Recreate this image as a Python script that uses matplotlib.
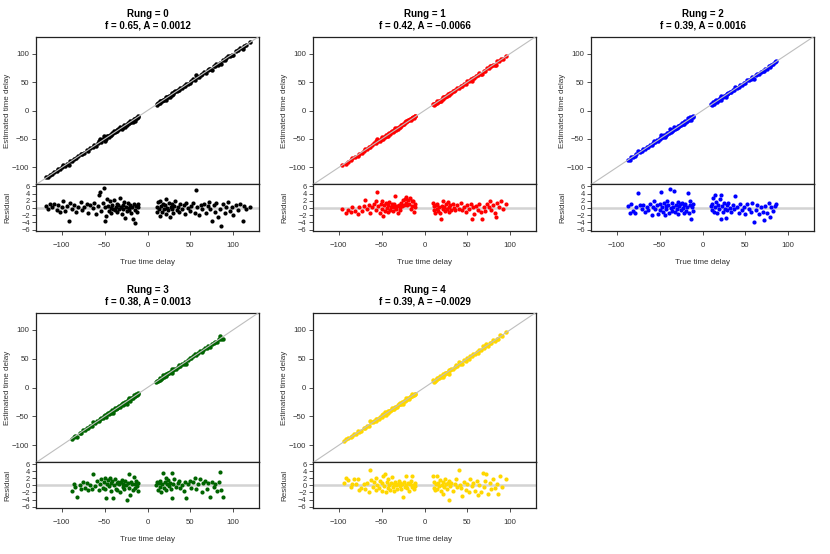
import numpy as np
import matplotlib.pyplot as plt

# 1) Values: (true time delay, residual) pairs per rung
rung0 = [(-118, 0.6), (-116, -0.4), (-114, 1.0), (-111, 0.3), (-109, 1.2), (-106, -0.5), (-104, 0.8),
         (-102, -1.2), (-100, 0.2), (-98, 1.9), (-96, -0.8), (-94, 0.5), (-92, -3.5), (-90, 1.3),
         (-88, -0.3), (-86, 0.9), (-83, -1.0), (-81, 0.4), (-78, 1.6), (-76, -0.6), (-74, 0.2),
         (-71, 1.1), (-69, -1.4), (-67, 0.7), (-64, 0.0), (-62, 1.4), (-60, -1.8), (-58, 0.6),
         (-57, 3.6), (-55, 4.4), (-54, -0.9), (-52, 1.5), (-51, 5.6), (-50, -3.5), (-49, 0.3),
         (-48, -2.3), (-47, 2.6), (-46, 0.5), (-45, -0.8), (-44, 1.8), (-43, 0.1), (-42, -1.5),
         (-41, 0.9), (-40, -0.2), (-39, 2.2), (-38, -0.6), (-37, 0.4), (-36, 1.2), (-35, -1.1),
         (-34, 0.7), (-33, -0.3), (-32, 2.9), (-31, 0.2), (-30, -1.7), (-29, 0.8), (-28, -0.4),
         (-27, 1.6), (-26, -2.8), (-25, 0.3), (-24, -0.9), (-23, 1.3), (-22, 0.0), (-21, -0.5),
         (-20, 0.9), (-19, -1.3), (-18, 0.4), (-17, -3.2), (-16, 1.1), (-15, -0.7), (-14, -4.2),
         (-13, 0.5), (-12, -1.0), (-11, 0.2), (-10.5, 1.0),
         (10.5, 0.3), (11, -1.2), (12, 1.6), (13, -0.4), (14, 2.0), (15, -2.3), (16, 0.6),
         (17, -1.0), (18, 1.1), (19, -0.2), (20, 0.8), (21, -1.8), (22, 2.4), (23, 0.1),
         (24, -0.7), (25, 1.3), (26, -2.5), (27, 0.4), (28, -0.3), (29, 1.0), (30, -1.4),
         (31, 0.6), (32, 1.8), (34, -0.5), (35, 0.2), (37, -1.1), (38, 1.2), (40, -0.2),
         (42, 0.7), (44, -1.6), (45, 1.4), (47, 0.0), (49, -0.9), (51, 0.5), (53, 1.5),
         (55, -1.3), (57, 5.0), (58, 0.3), (60, -2.0), (62, 0.8), (64, -0.4), (66, 1.1),
         (68, -1.5), (70, 0.6), (72, 1.7), (73, -0.3), (75, -3.7), (77, 0.9), (79, -1.0),
         (80, 1.3), (82, -2.6), (84, -0.2), (86, -5.1), (88, 1.0), (90, -1.4), (92, 0.4),
         (94, 1.6), (96, -0.8), (98, 0.2), (100, -1.9), (103, 0.7), (106, -0.6), (108, 1.2),
         (111, -3.5), (113, 0.5), (115, -0.3), (119, 0.4)]

rung1 = [(-96, -0.4), (-92, -1.5), (-89, -0.6), (-86, -1.2), (-84, 0.4), (-81, -0.8), (-78, -1.6),
         (-76, 0.3), (-73, -0.9), (-71, 0.6), (-69, 2.1), (-67, -0.3), (-65, 0.9), (-63, -1.3),
         (-61, 0.2), (-59, 1.1), (-57, -0.7), (-56, 1.8), (-55, 4.3), (-54, 0.5), (-52, -1.4),
         (-51, 1.0), (-50, -0.2), (-49, 1.9), (-48, -2.3), (-47, 0.7), (-46, -0.9), (-45, 1.5),
         (-44, 0.1), (-43, -1.2), (-42, 0.9), (-41, 1.6), (-40, -0.5), (-39, 0.4), (-38, 1.2),
         (-37, -0.8), (-36, 0.3), (-35, 1.0), (-34, 3.2), (-33, -0.4), (-32, 0.6), (-31, -1.5),
         (-30, 0.8), (-29, 0.2), (-28, -0.6), (-27, 1.4), (-26, 0.5), (-25, 2.1), (-24, 0.9),
         (-23, 2.6), (-22, 1.5), (-21, 3.0), (-20, 0.7), (-19, 2.3), (-18, 1.2), (-17, 2.8),
         (-16, -0.3), (-15, 1.8), (-14, 0.6), (-13, 2.0), (-12, -1.0), (-11, 1.1), (-10.5, 0.3),
         (10, 1.4), (10.5, -0.6), (11, 0.5), (12, -1.3), (13, 0.9), (14, -0.2), (15, 1.1),
         (16, -0.9), (17, 0.3), (18, -1.5), (19, -3.0), (20, 0.6), (21, -0.4), (22, 1.8),
         (23, 0.2), (24, -0.8), (25, 1.0), (26, -0.3), (27, 1.7), (28, 0.4), (29, -1.1),
         (30, 0.7), (31, -0.5), (33, 1.2), (34, 0.0), (36, -0.7), (38, 0.8), (40, -0.2),
         (42, 1.3), (44, -0.6), (46, 0.3), (48, -1.0), (50, 0.9), (52, -0.4), (54, 1.0),
         (55, -3.2), (57, 0.2), (58, -1.7), (60, 0.6), (62, -0.5), (64, 1.1), (66, -1.2),
         (67, -3.0), (69, 0.4), (71, -0.8), (73, 1.0), (75, 0.2), (76, 2.0), (78, -0.6),
         (80, 0.7), (82, -1.5), (83, -2.6), (85, 1.3), (87, 0.3), (89, 1.9), (91, -0.4),
         (95, 1.2)]

rung2 = [(-87, 0.5), (-85, -1.4), (-83, 1.0), (-81, -0.8), (-79, -1.5), (-77, 0.2), (-75, 4.1),
         (-73, 0.8), (-71, -0.4), (-69, 0.9), (-67, -1.2), (-65, 0.3), (-63, -0.7), (-61, 1.2),
         (-59, -1.9), (-58, 0.4), (-56, 1.8), (-55, -0.3), (-53, 0.7), (-52, -1.6), (-50, 1.0),
         (-49, -0.5), (-48, 4.4), (-47, 0.2), (-46, -1.0), (-45, 1.4), (-44, -2.0), (-43, 0.6),
         (-42, -0.3), (-41, 2.0), (-40, 0.8), (-39, -1.3), (-38, 5.3), (-37, 0.1), (-36, -0.8),
         (-35, 1.5), (-34, 0.4), (-33, 4.7), (-32, -1.1), (-31, 0.9), (-30, -0.4), (-29, 1.7),
         (-28, -1.7), (-27, 0.5), (-26, 1.0), (-25, -0.6), (-24, 1.3), (-23, 0.0), (-22, -1.4),
         (-21, 0.7), (-20, 1.1), (-19, -0.9), (-18, 0.3), (-17, 4.2), (-16, -1.5), (-15, 0.8),
         (-14, 2.0), (-13, -3.0), (-12, 0.2), (-11, -0.8), (-10.5, 1.2),
         (10, 0.6), (10.5, -0.5), (11, 1.2), (12, 2.8), (13, -1.0), (14, 3.5), (15, 0.2),
         (16, 1.6), (17, -1.4), (18, 0.8), (19, -0.3), (20, 2.4), (21, -3.2), (22, 3.7),
         (23, 0.5), (24, -1.1), (25, 1.3), (26, -0.2), (27, -2.7), (28, 0.9), (29, -0.6),
         (30, 1.5), (32, 0.1), (33, -1.2), (35, 0.7), (37, -0.4), (38, 3.3), (40, 0.3),
         (42, -1.5), (44, 1.0), (46, -0.7), (48, 0.4), (50, -1.8), (52, 1.2), (54, -0.2),
         (56, -1.1), (58, 1.3), (60, -4.0), (62, -0.5), (64, 0.8), (66, -1.6), (68, 0.2),
         (70, -1.0), (72, -3.3), (73, 0.6), (75, -1.3), (77, 1.3), (79, -2.5), (80, 0.4),
         (82, -0.9), (84, 0.6), (86, 1.0)]

rung3 = [(-88, -1.6), (-86, 0.3), (-84, -0.5), (-82, -3.2), (-79, 0.1), (-77, -1.0), (-75, 1.0),
         (-73, -0.6), (-71, 0.6), (-69, -1.2), (-67, 0.2), (-65, -0.9), (-63, 3.2), (-61, -0.3),
         (-59, 1.3), (-57, -1.4), (-55, 0.5), (-54, 1.8), (-52, -0.7), (-51, 0.9), (-50, 2.0),
         (-49, -1.1), (-48, -3.7), (-47, 0.4), (-46, 1.5), (-45, -0.2), (-44, 2.1), (-43, 0.8),
         (-42, -1.6), (-41, 1.2), (-40, -3.5), (-39, 0.1), (-38, 1.7), (-37, -0.9), (-36, 0.6),
         (-35, -1.3), (-34, 1.0), (-33, 0.3), (-32, -2.0), (-31, 0.9), (-30, 1.6), (-29, -0.5),
         (-28, 0.4), (-27, -1.1), (-26, 1.4), (-25, 0.0), (-24, -4.1), (-23, 0.8), (-22, 3.2),
         (-21, -0.6), (-20, -2.7), (-19, 1.1), (-18, 0.3), (-17, -1.2), (-16, 2.4), (-15, 0.5),
         (-14, -0.8), (-13, 1.3), (-12, -0.3), (-11, 0.7), (-10.5, -1.5),
         (10, 0.2), (11, 1.0), (12, -1.2), (13, 0.6), (14, -0.4), (15, 1.4), (16, -1.8),
         (17, 0.3), (18, 3.4), (19, -0.7), (20, 0.9), (21, 2.2), (22, -1.3), (23, 0.4),
         (24, 1.6), (25, -0.2), (26, 0.8), (27, -1.0), (28, 3.4), (29, -3.7), (30, 0.5),
         (31, 1.8), (33, -0.5), (35, 0.7), (37, 1.2), (38, -0.8), (40, 0.2), (42, -1.6),
         (44, 1.0), (45, -3.5), (47, 0.3), (49, 1.4), (51, -0.6), (53, 0.9), (55, 2.2),
         (57, -1.1), (59, 0.4), (61, 1.7), (63, -2.0), (65, 0.6), (67, 1.3), (69, -0.9),
         (71, 0.8), (73, -3.2), (75, 1.1), (77, -0.4), (79, 0.5), (81, -1.7), (83, 0.9),
         (85, 3.8), (86, -1.2), (88, -3.3)]

rung4 = [(-94, 0.7), (-91, 2.0), (-89, 1.6), (-86, -0.4), (-84, 0.5), (-82, 1.9), (-80, 0.3),
         (-78, 1.9), (-76, -1.4), (-74, -0.7), (-71, 0.4), (-69, -1.1), (-67, 0.8), (-65, -1.9),
         (-63, 4.3), (-62, 1.6), (-60, -0.5), (-59, 0.9), (-57, -1.3), (-56, 2.1), (-55, 0.1),
         (-53, -0.8), (-52, 1.2), (-50, -1.6), (-49, 0.6), (-48, 2.6), (-47, -0.3), (-46, 3.2),
         (-45, -1.9), (-44, 0.9), (-43, -0.6), (-42, 1.8), (-41, 0.2), (-40, -1.2), (-39, 0.7),
         (-38, 2.5), (-37, -0.4), (-36, 0.3), (-35, -1.5), (-34, 1.0), (-33, 0.0), (-32, -0.9),
         (-31, 0.5), (-30, 1.4), (-29, -0.2), (-28, 0.8), (-27, -1.0), (-26, 0.4), (-25, -3.2),
         (-24, 1.1), (-23, -0.5), (-22, 0.2), (-21, 2.7), (-20, -0.7), (-19, 0.6), (-18, -1.6),
         (-17, 0.3), (-16, 1.2), (-15, -0.4), (-14, 2.8), (-13, 0.1), (-12, -1.0), (-11, 0.6),
         (-10.5, -0.3),
         (10, 2.8), (10.5, -0.6), (11, 1.0), (12, -1.4), (13, 0.4), (14, 2.6), (15, -0.9),
         (16, 0.7), (17, -0.3), (18, 1.5), (19, -1.5), (20, 0.2), (21, -2.4), (22, 0.9),
         (23, -0.5), (24, 1.7), (25, 0.3), (26, -1.1), (27, 0.6), (28, -4.0), (29, 1.2),
         (30, -0.2), (31, 0.8), (33, -1.6), (35, 0.5), (37, 1.9), (38, -0.4), (40, 4.3),
         (41, 0.2), (43, -0.7), (44, -3.0), (46, 1.0), (48, -1.3), (50, 0.4), (52, -2.0),
         (53, 1.7), (55, -0.2), (57, 0.8), (59, -1.5), (61, 1.3), (62, -2.8), (64, 0.1),
         (66, -1.9), (68, 3.6), (69, -0.5), (71, 1.4), (72, 3.2), (74, -2.4), (76, 0.6),
         (78, -1.1), (80, 1.9), (82, -0.8), (84, 0.3), (86, -2.3), (88, 2.6), (90, -0.4),
         (95, 1.9)]

rungs = [rung0, rung1, rung2, rung3, rung4]
f_vals = ["0.65", "0.42", "0.39", "0.38", "0.39"]
A_vals = ["0.0012", "\u22120.0066", "0.0016", "0.0013", "\u22120.0029"]
colors = ["black", "red", "blue", "darkgreen", "gold"]

main_ticks = [-100, -50, 0, 50, 100]
resid_ticks = [-6, -4, -2, 0, 2, 4, 6]

plt.rcParams['font.family'] = ['Liberation Sans', 'DejaVu Sans']

# 2) Figure with panels placed in pixel units
W, H = 830, 554
fig = plt.figure(figsize=(W / 100, H / 100), dpi=100)


def px_axes(left, top, right, bottom):
    return fig.add_axes([left / W, 1 - bottom / H, (right - left) / W, (bottom - top) / H])


def fmt(ticks):
    return [str(t).replace("-", "\u2212") for t in ticks]


lefts = [36, 313, 591]
rows = [(37, 184, 231), (313, 462, 508)]
pw = 223

for k, data in enumerate(rungs):
    r, c = divmod(k, 3)
    top, mid, bot = rows[r]
    left = lefts[c]
    arr = np.array(data, dtype=float)
    true_d = arr[:, 0]
    resid = arr[:, 1]
    est = true_d + resid

    ax = px_axes(left, top, left + pw, mid)
    axr = px_axes(left, mid, left + pw, bot)

    # 3a) main panel: estimate vs truth, grey 1:1 line on top
    ax.plot(true_d, est, "o", color=colors[k], ms=3.2, mec="none", zorder=2)
    ax.axline((0, 0), slope=1, color="#BEBEBE", lw=0.8, zorder=3)
    ax.set_xlim(-130, 130)
    ax.set_ylim(-129, 129)
    ax.set_xticks([])
    ax.set_yticks(main_ticks)
    ax.set_yticklabels(fmt(main_ticks))
    ax.set_ylabel("Estimated time delay", fontsize=5.8, color="#333333")
    ax.yaxis.set_label_coords(-25 / pw, 0.5)
    ax.set_title("Rung = %d\nf = %s, A = %s" % (k, f_vals[k], A_vals[k]),
                 fontsize=7, fontweight="bold", pad=6, linespacing=1.15)

    # 3b) residual panel
    axr.axhline(0, color="#D3D3D3", lw=1.8, zorder=1)
    axr.plot(true_d, resid, "o", color=colors[k], ms=3.0, mec="none", zorder=2)
    axr.set_xlim(-130, 130)
    axr.set_ylim(-6.4, 6.65)
    axr.set_yticks(resid_ticks)
    axr.set_yticklabels(fmt(resid_ticks))
    axr.set_xticks(main_ticks)
    axr.set_xticklabels(fmt(main_ticks))
    axr.set_ylabel("Residual", fontsize=5.8, color="#333333")
    axr.yaxis.set_label_coords(-25 / pw, 0.5)
    axr.set_xlabel("True time delay", fontsize=5.8, color="#333333")
    axr.xaxis.set_label_coords(0.5, -28 / (bot - mid))

    for a in (ax, axr):
        a.tick_params(labelsize=5.6, length=3, width=0.6, pad=2, colors="#333333")
        for s in a.spines.values():
            s.set_linewidth(0.9)
            s.set_color("#222222")
    axr.tick_params(axis="y", labelsize=5.4, pad=1.5)
    axr.tick_params(axis="x", length=3.2, pad=5)

fig.savefig("out.png", dpi=100)
